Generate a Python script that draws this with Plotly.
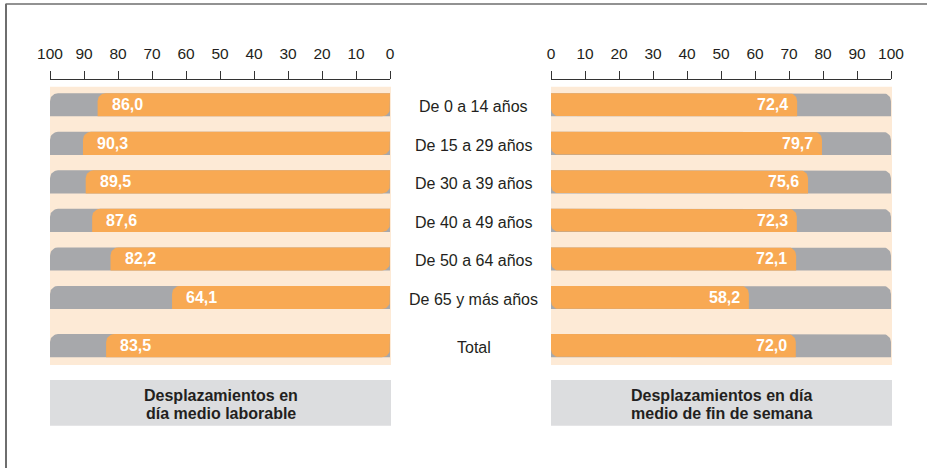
import math
import plotly.graph_objects as go

# Age groups and the share of people who travel (%) on each kind of day
categorias = ["De 0 a 14 años", "De 15 a 29 años", "De 30 a 39 años",
              "De 40 a 49 años", "De 50 a 64 años", "De 65 y más años", "Total"]
laborable = [86.0, 90.3, 89.5, 87.6, 82.2, 64.1, 83.5]
fin_semana = [72.4, 79.7, 75.6, 72.3, 72.1, 58.2, 72.0]
ticks = [0, 10, 20, 30, 40, 50, 60, 70, 80, 90, 100]

titulo_izq = ["Desplazamientos en", "día medio laborable"]
titulo_der = ["Desplazamientos en día", "medio de fin de semana"]

W, H = 927, 468
NARANJA = "#F8A953"
GRIS = "#A7A8AB"
BEIGE = "#FDEAD6"
CAJA = "#DCDDDF"
TEXTO = "#231F20"
FUENTE = "Liberation Sans, Arial, Helvetica, sans-serif"

# pixel geometry of the two panels
L0, L1 = 50, 390          # left panel (100 -> 0)
R0, R1 = 551, 891         # right panel (0 -> 100)
PT, PB = 86.7, 365        # beige band top / bottom
AXIS_Y = 79.3
ROW_PX = 38.54
FIRST_ROW_PX = 104.8

ypos = [i + (0.25 if c == "Total" else 0) for i, c in enumerate(categorias)]
y_top = (PT - FIRST_ROW_PX) / ROW_PX
y_bot = (PB - FIRST_ROW_PX) / ROW_PX
HALF = 0.3
RADIUS_PX = 8
rx = RADIUS_PX / ((L1 - L0) / 100)
ry = RADIUS_PX / ROW_PX


def rounded(x_left, x_right, y_c, corners, n=10):
    """Polygon of a bar whose pixel-left edge is x_left and pixel-right edge x_right.
    corners: set of 'tl','tr','br','bl' (pixel orientation) to round."""
    yt, yb = y_c - HALF, y_c + HALF          # y axis is reversed: smaller = higher
    dx = rx if x_right > x_left else -rx
    dy = ry
    xs, ys = [], []
    ts = [k / n for k in range(n + 1)]
    if "tl" in corners:
        cx, cy = x_left + dx, yt + dy
        for t in ts:
            th = math.pi / 2 * t
            xs.append(cx - dx * math.cos(th)); ys.append(cy - dy * math.sin(th))
    else:
        xs.append(x_left); ys.append(yt)
    if "tr" in corners:
        cx, cy = x_right - dx, yt + dy
        for t in ts:
            th = math.pi / 2 * t
            xs.append(cx + dx * math.sin(th)); ys.append(cy - dy * math.cos(th))
    else:
        xs.append(x_right); ys.append(yt)
    if "br" in corners:
        cx, cy = x_right - dx, yb - dy
        for t in ts:
            th = math.pi / 2 * t
            xs.append(cx + dx * math.cos(th)); ys.append(cy + dy * math.sin(th))
    else:
        xs.append(x_right); ys.append(yb)
    if "bl" in corners:
        cx, cy = x_left + dx, yb - dy
        for t in ts:
            th = math.pi / 2 * t
            xs.append(cx - dx * math.sin(th)); ys.append(cy + dy * math.cos(th))
    else:
        xs.append(x_left); ys.append(yb)
    xs.append(xs[0]); ys.append(ys[0])
    return xs, ys


def poly(xs, ys, color, xa, ya):
    return go.Scatter(x=xs, y=ys, mode="lines", fill="toself", fillcolor=color,
                      line=dict(width=0, color=color), hoverinfo="skip",
                      showlegend=False, xaxis=xa, yaxis=ya, cliponaxis=False)


fig = go.Figure()
annotations = []

for cat, y, v_lab, v_fin in zip(categorias, ypos, laborable, fin_semana):
    # left panel: axis reversed, bars grow leftwards from 0
    xs, ys = rounded(100, 0, y, {"tl"})
    fig.add_trace(poly(xs, ys, GRIS, "x", "y"))
    xs, ys = rounded(v_lab, 0, y, {"tl", "br"})
    fig.add_trace(poly(xs, ys, NARANJA, "x", "y"))
    annotations.append(dict(x=v_lab, y=y, xref="x", yref="y", xanchor="left",
                            yanchor="middle", xshift=12, showarrow=False,
                            text=f"<b>{v_lab:.1f}</b>".replace(".", ","),
                            font=dict(family=FUENTE, size=16, color="white")))
    # right panel
    xs, ys = rounded(0, 100, y, {"tr"})
    fig.add_trace(poly(xs, ys, GRIS, "x2", "y2"))
    xs, ys = rounded(0, v_fin, y, {"bl", "tr"})
    fig.add_trace(poly(xs, ys, NARANJA, "x2", "y2"))
    annotations.append(dict(x=v_fin, y=y, xref="x2", yref="y2", xanchor="right",
                            yanchor="middle", xshift=-7, showarrow=False,
                            text=f"<b>{v_fin:.1f}</b>".replace(".", ","),
                            font=dict(family=FUENTE, size=16, color="white")))
    # category label between the panels
    annotations.append(dict(x=473.5 / W, y=y, xref="paper", yref="y",
                            xanchor="center", yanchor="middle", yshift=-2,
                            showarrow=False, text=cat,
                            font=dict(family=FUENTE, size=16, color=TEXTO)))

# panel titles, one annotation per line for tight leading
for x0, x1, lines in [(L0, L1 + 1, titulo_izq), (R0, R1 + 1, titulo_der)]:
    for line, py in zip(lines, [395.7, 413.3]):
        annotations.append(dict(x=(x0 + x1) / 2 / W, y=1 - py / H, xref="paper",
                                yref="paper", xanchor="center", yanchor="middle",
                                showarrow=False, text=f"<b>{line}</b>",
                                font=dict(family=FUENTE, size=16, color=TEXTO)))

shapes = [
    # beige bands behind bars
    dict(type="rect", xref="paper", yref="paper", x0=L0 / W, x1=(L1 + 1) / W,
         y0=1 - PB / H, y1=1 - PT / H, fillcolor=BEIGE, line=dict(width=0),
         layer="below"),
    dict(type="rect", xref="paper", yref="paper", x0=R0 / W, x1=(R1 + 1) / W,
         y0=1 - PB / H, y1=1 - PT / H, fillcolor=BEIGE, line=dict(width=0),
         layer="below"),
    # title boxes
    dict(type="rect", xref="paper", yref="paper", x0=L0 / W, x1=(L1 + 1) / W,
         y0=1 - 425.7 / H, y1=1 - 380 / H, fillcolor=CAJA, line=dict(width=0),
         layer="below"),
    dict(type="rect", xref="paper", yref="paper", x0=R0 / W, x1=(R1 + 1) / W,
         y0=1 - 425.7 / H, y1=1 - 380 / H, fillcolor=CAJA, line=dict(width=0),
         layer="below"),
    # outer frame (top and left edges)
    dict(type="line", xref="paper", yref="paper", x0=5.5 / W, x1=1.0,
         y0=1 - 4 / H, y1=1 - 4 / H, line=dict(color="#6E6E6E", width=1.6)),
    dict(type="line", xref="paper", yref="paper", x0=6 / W, x1=6 / W,
         y0=0, y1=1 - 4 / H, line=dict(color="#6E6E6E", width=2)),
]

xaxis_common = dict(
    showgrid=False, zeroline=False, showline=True, linecolor="#333333",
    linewidth=1, ticks="outside", ticklen=8, tickwidth=1, tickcolor="#333333",
    side="top", anchor="free", position=1 - AXIS_Y / H, tickvals=ticks,
    ticklabelstandoff=6, tickfont=dict(family=FUENTE, size=15.5, color=TEXTO),
    fixedrange=True, automargin=False,
)
yaxis_common = dict(visible=False, range=[y_bot, y_top], automargin=False,
                    domain=[1 - PB / H, 1 - PT / H], fixedrange=True)

fig.update_layout(
    width=W, height=H,
    margin=dict(l=0, r=0, t=0, b=0, pad=0, autoexpand=False),
    paper_bgcolor="white", plot_bgcolor="rgba(0,0,0,0)",
    xaxis=dict(**xaxis_common, range=[100, 0], domain=[L0 / W, L1 / W]),
    xaxis2=dict(**xaxis_common, range=[0, 100], domain=[R0 / W, R1 / W]),
    yaxis=dict(**yaxis_common),
    yaxis2=dict(**yaxis_common, anchor="x2"),
    shapes=shapes, annotations=annotations, showlegend=False,
)

fig.write_html("out.html")
